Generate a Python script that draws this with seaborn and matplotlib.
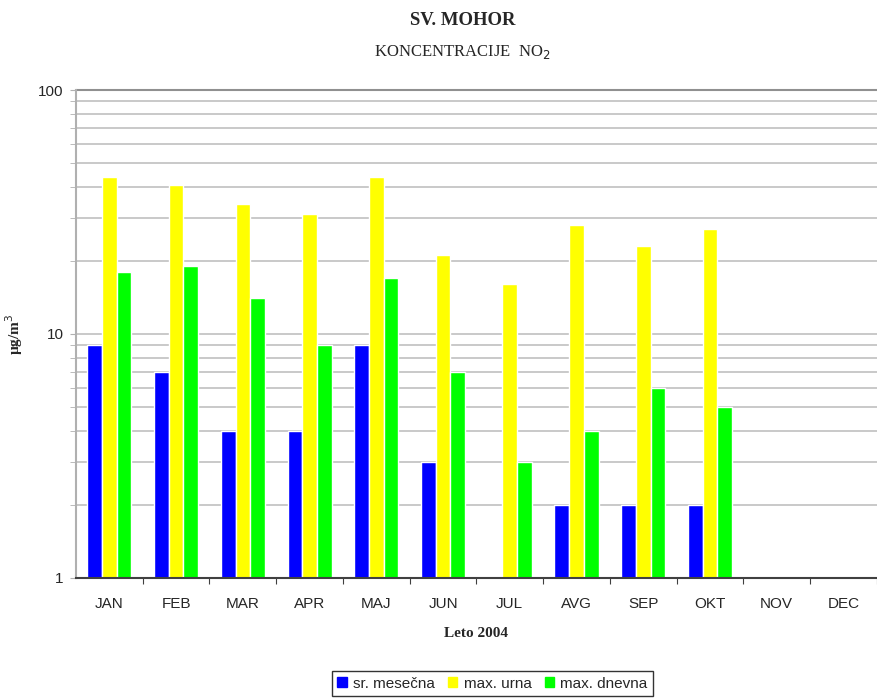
import numpy as np
import pandas as pd
import matplotlib
matplotlib.use("Agg")
import matplotlib.pyplot as plt
import seaborn as sns
from matplotlib.ticker import FixedLocator, NullFormatter, FixedFormatter

## data
meseci = ["JAN", "FEB", "MAR", "APR", "MAJ", "JUN", "JUL", "AVG", "SEP", "OKT", "NOV", "DEC"]
sr_mesecna = [9, 7, 4, 4, 9, 3, np.nan, 2, 2, 2, np.nan, np.nan]
max_urna = [44, 41, 34, 31, 44, 21, 16, 28, 23, 27, np.nan, np.nan]
max_dnevna = [18, 19, 14, 9, 17, 7, 3, 4, 6, 5, np.nan, np.nan]
serije = ["sr. mesečna", "max. urna", "max. dnevna"]
barve = ["#0000ff", "#ffff00", "#00ff00"]

df = pd.DataFrame({
    "mesec": meseci * 3,
    "serija": np.repeat(serije, len(meseci)),
    "vrednost": sr_mesecna + max_urna + max_dnevna,
})

## plot
sns.set_style("white")
plt.rcParams["font.family"] = ["Liberation Sans", "DejaVu Sans"]

fig = plt.figure(figsize=(8.78, 6.98), dpi=100)
ax = fig.add_axes([0.0866, 0.172, 0.912, 0.699])

sns.barplot(data=df, x="mesec", y="vrednost", hue="serija", order=meseci,
            hue_order=serije, palette=barve, saturation=1, width=0.66, errorbar=None,
            edgecolor="white", linewidth=1, ax=ax, legend=True)

ax.set_yscale("log")
ax.set_ylim(1, 100)
ax.set_xlim(-0.5, len(meseci) - 0.5)

# y ticks
ax.yaxis.set_major_locator(FixedLocator([1, 10, 100]))
ax.yaxis.set_major_formatter(FixedFormatter(["1", "10", "100"]))
minor = [k * 10 ** e for e in (0, 1) for k in range(2, 10)]
ax.yaxis.set_minor_locator(FixedLocator(minor))
ax.yaxis.set_minor_formatter(NullFormatter())
ax.tick_params(axis="y", which="both", direction="out", length=4, color="#b0b0b0",
               labelsize=11, left=True, pad=5)
ax.grid(axis="y", which="both", color="#c0c0c0", linewidth=1.2)
ax.set_axisbelow(True)

# x ticks: marks at category boundaries, labels at centers
ax.set_xticks(np.arange(len(meseci)) + 0.5)
ax.set_xticklabels([])
ax.set_xticks(np.arange(len(meseci)), minor=True)
ax.set_xticklabels(meseci, minor=True)
ax.tick_params(axis="x", which="major", direction="out", length=4, color="#404040", bottom=True)
ax.tick_params(axis="x", which="minor", length=0, labelsize=11, pad=14)

for s in ["top", "right"]:
    ax.spines[s].set_visible(False)
ax.spines["left"].set_color("#b0b0b0")
ax.spines["left"].set_linewidth(1.5)
ax.spines["bottom"].set_color("#404040")
ax.spines["bottom"].set_linewidth(1.5)
ax.axhline(100, color="#909090", linewidth=1.5, clip_on=False)

ax.set_xlabel("Leto 2004", family="Liberation Serif", fontweight="bold", fontsize=11, labelpad=11)
ax.set_ylabel("µg/m$^3$", family="Liberation Serif", fontweight="bold", fontsize=11)
ax.yaxis.set_label_coords(-0.064, 0.5)

fig.text(0.527, 0.970, "SV. MOHOR", ha="center", va="center", family="Liberation Serif",
         fontweight="bold", fontsize=13.5)
fig.text(0.527, 0.925, "KONCENTRACIJE  NO$_2$", ha="center", va="center",
         family="Liberation Serif", fontsize=12)

ax.legend_.remove()
handles = [plt.Rectangle((0, 0), 1, 1, color=c) for c in barve]
leg = fig.legend(handles, serije, loc="lower center", bbox_to_anchor=(0.561, -0.008), ncol=3,
                 frameon=True, fancybox=False, edgecolor="black", fontsize=11,
                 handlelength=0.6, handleheight=0.6, handletextpad=0.4, columnspacing=0.9,
                 borderpad=0.35)
leg.get_frame().set_linewidth(1)

fig.savefig("out.png", dpi=100)
